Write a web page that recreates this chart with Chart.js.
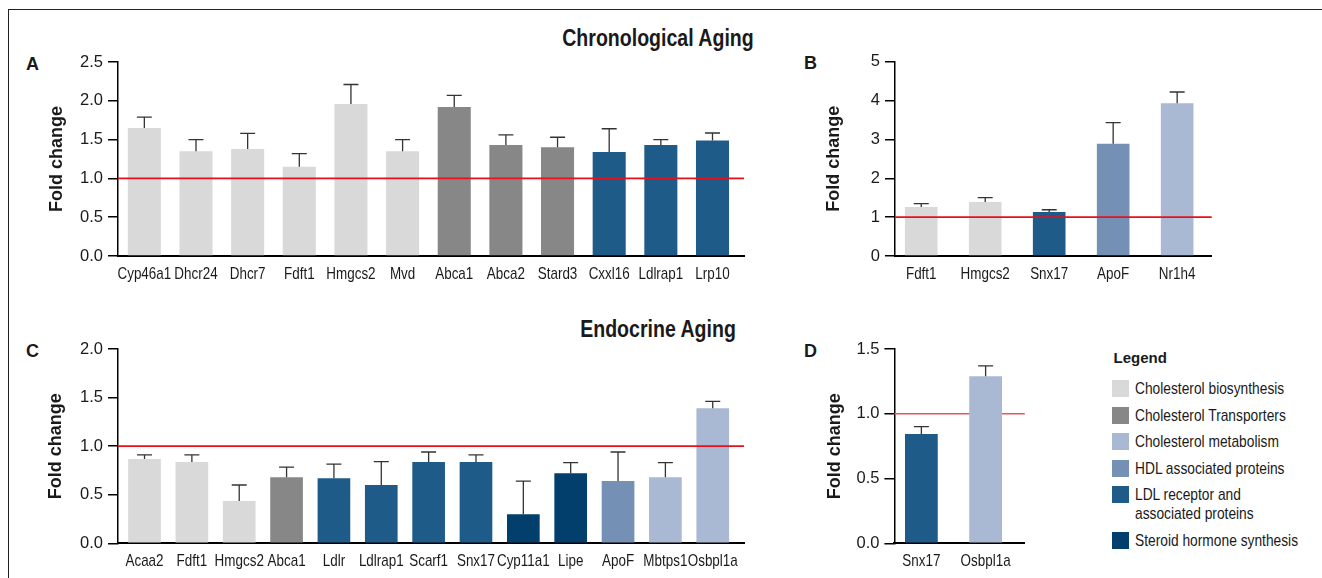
<!DOCTYPE html>
<html>
<head>
<meta charset="utf-8">
<script src="https://cdn.jsdelivr.net/npm/chart.js@4.4.0/dist/chart.umd.min.js"></script>
<style>
body { margin: 0; background: #fff; width: 1322px; height: 578px; overflow: hidden; position: relative;
       font-family: 'Liberation Sans', Arial, sans-serif; color: #1a1a1a; }
.frame { position: absolute; left: 7.5px; top: 9px; right: 0; bottom: -2px; border-top: 1.5px solid #222; border-left: 1.5px solid #222; }
canvas { position: absolute; }
.title { position: absolute; width: 240px; text-align: center; font-weight: bold; font-size: 23px; line-height: 1;
         transform: scaleX(0.85); transform-origin: center; }
.letter { position: absolute; font-weight: bold; font-size: 18px; line-height: 1; }
#legend { position: absolute; left: 1112px; top: 350px; }
#legend h4 { margin: 0 0 14px 1.5px; font-size: 15px; line-height: 15px; }
.row { display: flex; align-items: flex-start; margin-bottom: 7.5px; }
.sw { width: 17px; height: 17px; margin-top: 1px; margin-right: 6px; flex: none; }
.lab { font-size: 17px; line-height: 19px; white-space: pre; transform: scaleX(0.81); transform-origin: left; }
</style>
</head>
<body>
<div class="frame"></div>
<div class="title" style="left:538px; top:26.5px">Chronological Aging</div>
<div class="title" style="left:538px; top:318px">Endocrine Aging</div>
<div class="letter" style="left:26px; top:55px">A</div>
<div class="letter" style="left:804px; top:54px">B</div>
<div class="letter" style="left:26px; top:342px">C</div>
<div class="letter" style="left:804px; top:342px">D</div>
<canvas id="chartA" width="760" height="300" style="left:0; top:0"></canvas>
<canvas id="chartB" width="460" height="300" style="left:770px; top:0"></canvas>
<canvas id="chartC" width="760" height="288" style="left:0; top:290px"></canvas>
<canvas id="chartD" width="270" height="288" style="left:770px; top:290px"></canvas>
<div id="legend"><h4>Legend</h4></div>
<script>
// panel A - chronological aging
const aLabels = ['Cyp46a1', 'Dhcr24', 'Dhcr7', 'Fdft1', 'Hmgcs2', 'Mvd', 'Abca1', 'Abca2', 'Stard3', 'Cxxl16', 'Ldlrap1', 'Lrp10'];
const aValues = [1.65, 1.35, 1.38, 1.15, 1.96, 1.35, 1.92, 1.43, 1.40, 1.34, 1.43, 1.49];
const aErrors = [0.14, 0.15, 0.20, 0.17, 0.25, 0.15, 0.15, 0.13, 0.13, 0.30, 0.07, 0.095];
const aGroups = ['bio', 'bio', 'bio', 'bio', 'bio', 'bio', 'trans', 'trans', 'trans', 'ldl', 'ldl', 'ldl'];

// panel B
const bLabels = ['Fdft1', 'Hmgcs2', 'Snx17', 'ApoF', 'Nr1h4'];
const bValues = [1.26, 1.39, 1.13, 2.89, 3.93];
const bErrors = [0.09, 0.11, 0.06, 0.54, 0.29];
const bGroups = ['bio', 'bio', 'ldl', 'hdl', 'metab'];

// panel C - endocrine aging
const cLabels = ['Acaa2', 'Fdft1', 'Hmgcs2', 'Abca1', 'Ldlr', 'Ldlrap1', 'Scarf1', 'Snx17', 'Cyp11a1', 'Lipe', 'ApoF', 'Mbtps1', 'Osbpl1a'];
const cValues = [0.867, 0.836, 0.435, 0.68, 0.67, 0.60, 0.836, 0.836, 0.30, 0.72, 0.64, 0.68, 1.39];
const cErrors = [0.043, 0.074, 0.165, 0.105, 0.145, 0.24, 0.104, 0.074, 0.34, 0.11, 0.30, 0.15, 0.07];
const cGroups = ['bio', 'bio', 'bio', 'trans', 'ldl', 'ldl', 'ldl', 'ldl', 'steroid', 'steroid', 'hdl', 'metab', 'metab'];

// panel D
const dLabels = ['Snx17', 'Osbpl1a'];
const dValues = [0.844, 1.29];
const dErrors = [0.056, 0.08];
const dGroups = ['ldl', 'metab'];

const legendGroups = ['bio', 'trans', 'metab', 'hdl', 'ldl', 'steroid'];
const legendLabels = ['Cholesterol biosynthesis', 'Cholesterol Transporters', 'Cholesterol metabolism',
    'HDL associated proteins', 'LDL receptor and\nassociated proteins', 'Steroid hormone synthesis'];

const GROUP_COLORS = {
    bio: '#d9d9d9',
    trans: '#878787',
    metab: '#a9b9d3',
    hdl: '#7590b5',
    ldl: '#1f5b88',
    steroid: '#023f6d'
};

const FONT = "'Liberation Sans', Arial, sans-serif";
Chart.defaults.font.family = FONT;
Chart.defaults.color = '#1a1a1a';

function drawRef(chart, opts)
{
    const {ctx, chartArea} = chart;
    const y = chart.scales.y.getPixelForValue(opts.value);
    ctx.save();
    ctx.strokeStyle = opts.color;
    ctx.lineWidth = 1.6;
    ctx.beginPath();
    ctx.moveTo(chartArea.left, y);
    ctx.lineTo(chartArea.right, y);
    ctx.stroke();
    ctx.restore();
}

const refLinePlugin = {
    id: 'refLine',
    beforeDatasetsDraw(chart, args, opts) { if (opts.behind) drawRef(chart, opts); },
    afterDatasetsDraw(chart, args, opts) { if (!opts.behind) drawRef(chart, opts); }
};

// one-sided error bars (mean + SEM)
const errorBarPlugin = {
    id: 'errorBars',
    afterDatasetsDraw(chart)
    {
        const ctx = chart.ctx;
        const ds = chart.data.datasets[0];
        const meta = chart.getDatasetMeta(0);
        const yScale = chart.scales.y;
        ctx.save();
        ctx.strokeStyle = '#333';
        ctx.lineWidth = 1.3;
        ctx.beginPath();
        meta.data.forEach((bar, i) =>
        {
            const top = yScale.getPixelForValue(ds.data[i].y + ds.errors[i]);
            ctx.moveTo(bar.x, bar.y);
            ctx.lineTo(bar.x, top);
            ctx.moveTo(bar.x - 7.5, top);
            ctx.lineTo(bar.x + 7.5, top);
        });
        ctx.stroke();
        ctx.restore();
    }
};

// the figure uses a condensed face, so the x tick labels get squeezed sideways
const condensedTicksPlugin = {
    id: 'condensedTicks',
    afterDraw(chart)
    {
        const ctx = chart.ctx;
        const xs = chart.scales.x;
        ctx.save();
        ctx.font = '17px ' + FONT;
        ctx.fillStyle = '#1a1a1a';
        ctx.textAlign = 'center';
        ctx.textBaseline = 'alphabetic';
        for (const tick of xs.ticks)
        {
            ctx.save();
            ctx.translate(xs.getPixelForValue(tick.value), xs.top + 23);
            ctx.scale(0.79, 1);
            ctx.fillText(tick.label, 0, 0);
            ctx.restore();
        }
        ctx.restore();
    }
};

function drawPanel(id, labels, values, errors, groups, layout)
{
    const canvas = document.getElementById(id);
    const area = layout.area;
    new Chart(canvas, {
        type: 'bar',
        data: {
            datasets: [{
                data: values.map((v, i) => ({x: i, y: v})),
                errors: errors,
                backgroundColor: groups.map(g => GROUP_COLORS[g]),
                borderWidth: 0,
                barPercentage: layout.barPct,
                categoryPercentage: 1
            }]
        },
        options: {
            responsive: false,
            animation: false,
            events: [],
            layout: { padding: { left: 0, top: area.top, right: canvas.width - area.right, bottom: 0 } },
            plugins: {
                legend: { display: false },
                tooltip: { enabled: false },
                refLine: { value: 1, color: layout.refColor, behind: layout.refBehind }
            },
            scales: {
                x: {
                    type: 'linear',
                    min: layout.xMin,
                    max: layout.xMax,
                    offset: false,
                    grid: { display: false, offset: false, drawTicks: false, tickLength: 0 },
                    border: { color: '#000', width: 2 },
                    ticks: {
                        display: false,
                        stepSize: 1, autoSkip: false, includeBounds: false,
                        callback: v => labels[v] ?? ''
                    },
                    afterFit: s => { s.height = canvas.height - area.bottom; }
                },
                y: {
                    min: 0,
                    max: layout.yMax,
                    ticks: {
                        stepSize: layout.yStep, padding: 5,
                        font: { size: 16.5 },
                        callback: v => v.toFixed(layout.decimals)
                    },
                    grid: { display: true, drawOnChartArea: false, drawTicks: true, tickLength: 10, color: '#000', lineWidth: 1.5 },
                    border: { color: '#000', width: 1.5 },
                    title: {
                        display: true,
                        text: 'Fold change',
                        font: { size: 18, weight: 'bold' },
                        padding: { top: layout.titlePad, bottom: 0 }
                    },
                    afterFit: s => { s.width = area.left; }
                }
            }
        },
        plugins: [refLinePlugin, errorBarPlugin, condensedTicksPlugin]
    });
}

drawPanel('chartA', aLabels, aValues, aErrors, aGroups, {
    area: { left: 118, right: 744, top: 62, bottom: 256 },
    xMin: -0.51, xMax: 11.61, barPct: 0.64,
    yMax: 2.5, yStep: 0.5, decimals: 1, titlePad: 46.5,
    refColor: '#e8101a', refBehind: false
});

drawPanel('chartB', bLabels, bValues, bErrors, bGroups, {
    area: { left: 125, right: 441.7, top: 61.7, bottom: 256 },
    xMin: -0.41, xMax: 4.54, barPct: 0.51,
    yMax: 5, yStep: 1, decimals: 0, titlePad: 53,
    refColor: '#e8101a', refBehind: false
});

drawPanel('chartC', cLabels, cValues, cErrors, cGroups, {
    area: { left: 118, right: 744, top: 59, bottom: 253.3 },
    xMin: -0.56, xMax: 12.66, barPct: 0.69,
    yMax: 2, yStep: 0.5, decimals: 1, titlePad: 45.5,
    refColor: '#e8101a', refBehind: false
});

drawPanel('chartD', dLabels, dValues, dErrors, dGroups, {
    area: { left: 124.4, right: 254.8, top: 59, bottom: 253.3 },
    xMin: -0.42, xMax: 1.61, barPct: 0.51,
    yMax: 1.5, yStep: 0.5, decimals: 1, titlePad: 54,
    refColor: '#e8575f', refBehind: true
});

const legendDiv = document.getElementById('legend');
for (let i = 0; i < legendGroups.length; i++)
{
    const row = document.createElement('div');
    row.className = 'row';
    legendDiv.appendChild(row);

        const sw = document.createElement('div');
        sw.className = 'sw';
        sw.style.background = GROUP_COLORS[legendGroups[i]];
        row.appendChild(sw);

        const lab = document.createElement('div');
        lab.className = 'lab';
        lab.textContent = legendLabels[i];
        row.appendChild(lab);
}
</script>
</body>
</html>
